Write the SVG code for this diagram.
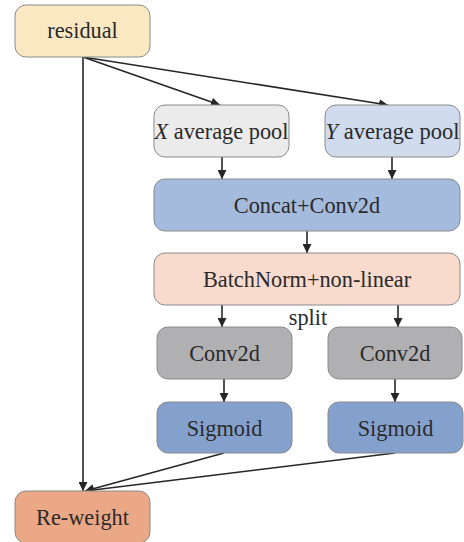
<svg xmlns="http://www.w3.org/2000/svg" width="464" height="542" viewBox="0 0 464 542">
<style>
.n{stroke:#8a8a8a;stroke-width:1}
.t{font-family:"Liberation Serif","DejaVu Serif",serif;font-size:22.3px;fill:#2a2a2a;text-anchor:middle;dominant-baseline:central}
.c{stroke:#262626;stroke-width:1.6;fill:none;marker-end:url(#ah)}
</style>
<defs>
<marker id="ah" viewBox="0 0 10 10" refX="10" refY="5" markerWidth="9" markerHeight="9" markerUnits="userSpaceOnUse" orient="auto">
<path d="M0,0 L10,5 L0,10 z" fill="#262626"/>
</marker>
</defs>
<rect width="464" height="542" fill="#fff"/>
<g id="connectors">
<line class="c" x1="83" y1="57" x2="83" y2="491"/>
<line class="c" x1="83" y1="57" x2="220" y2="105"/>
<line class="c" x1="83" y1="57" x2="388" y2="105"/>
<line class="c" x1="222" y1="157" x2="222" y2="179"/>
<line class="c" x1="392" y1="157" x2="392" y2="179"/>
<line class="c" x1="307" y1="231" x2="307" y2="253"/>
<line class="c" x1="222" y1="305" x2="222" y2="327"/>
<line class="c" x1="398" y1="305" x2="398" y2="327"/>
<line class="c" x1="224" y1="379" x2="224" y2="402"/>
<line class="c" x1="395" y1="379" x2="395" y2="402"/>
<line class="c" x1="224" y1="453" x2="85" y2="491"/>
<line class="c" x1="395" y1="453" x2="85" y2="491"/>
</g>
<g id="residual"><rect class="n" x="15" y="5" width="135" height="52" rx="11" fill="#faE8c3"/><text class="t" x="82.5" y="30">residual</text></g>
<g id="xpool"><rect class="n" x="154" y="105" width="135" height="52" rx="11" fill="#ebebeb"/><text class="t" x="221.5" y="131" textLength="134" lengthAdjust="spacingAndGlyphs"><tspan font-style="italic">X</tspan> average pool</text></g>
<g id="ypool"><rect class="n" x="325" y="105" width="135" height="52" rx="11" fill="#d0dbee"/><text class="t" x="392.5" y="131" textLength="134" lengthAdjust="spacingAndGlyphs"><tspan font-style="italic">Y</tspan> average pool</text></g>
<g id="concat"><rect class="n" x="154" y="179" width="306" height="52" rx="11" fill="#a5bbde"/><text class="t" x="307" y="205">Concat+Conv2d</text></g>
<g id="bn"><rect class="n" x="154" y="253" width="306" height="52" rx="11" fill="#f8dbcd"/><text class="t" x="307" y="279">BatchNorm+non-linear</text></g>
<text id="split" class="t" x="308" y="317">split</text>
<g id="conv1"><rect class="n" x="157" y="327" width="135" height="52" rx="11" fill="#b0b0b2"/><text class="t" x="224.5" y="353">Conv2d</text></g>
<g id="conv2"><rect class="n" x="328" y="327" width="134" height="52" rx="11" fill="#b0b0b2"/><text class="t" x="395" y="353">Conv2d</text></g>
<g id="sig1"><rect class="n" x="157" y="402" width="135" height="51" rx="11" fill="#84a1ce"/><text class="t" x="224.5" y="428">Sigmoid</text></g>
<g id="sig2"><rect class="n" x="328" y="402" width="135" height="51" rx="11" fill="#84a1ce"/><text class="t" x="395.5" y="428">Sigmoid</text></g>
<g id="reweight"><rect class="n" x="15" y="491" width="135" height="52" rx="11" fill="#eba886"/><text class="t" x="82.5" y="517">Re-weight</text></g>
</svg>
